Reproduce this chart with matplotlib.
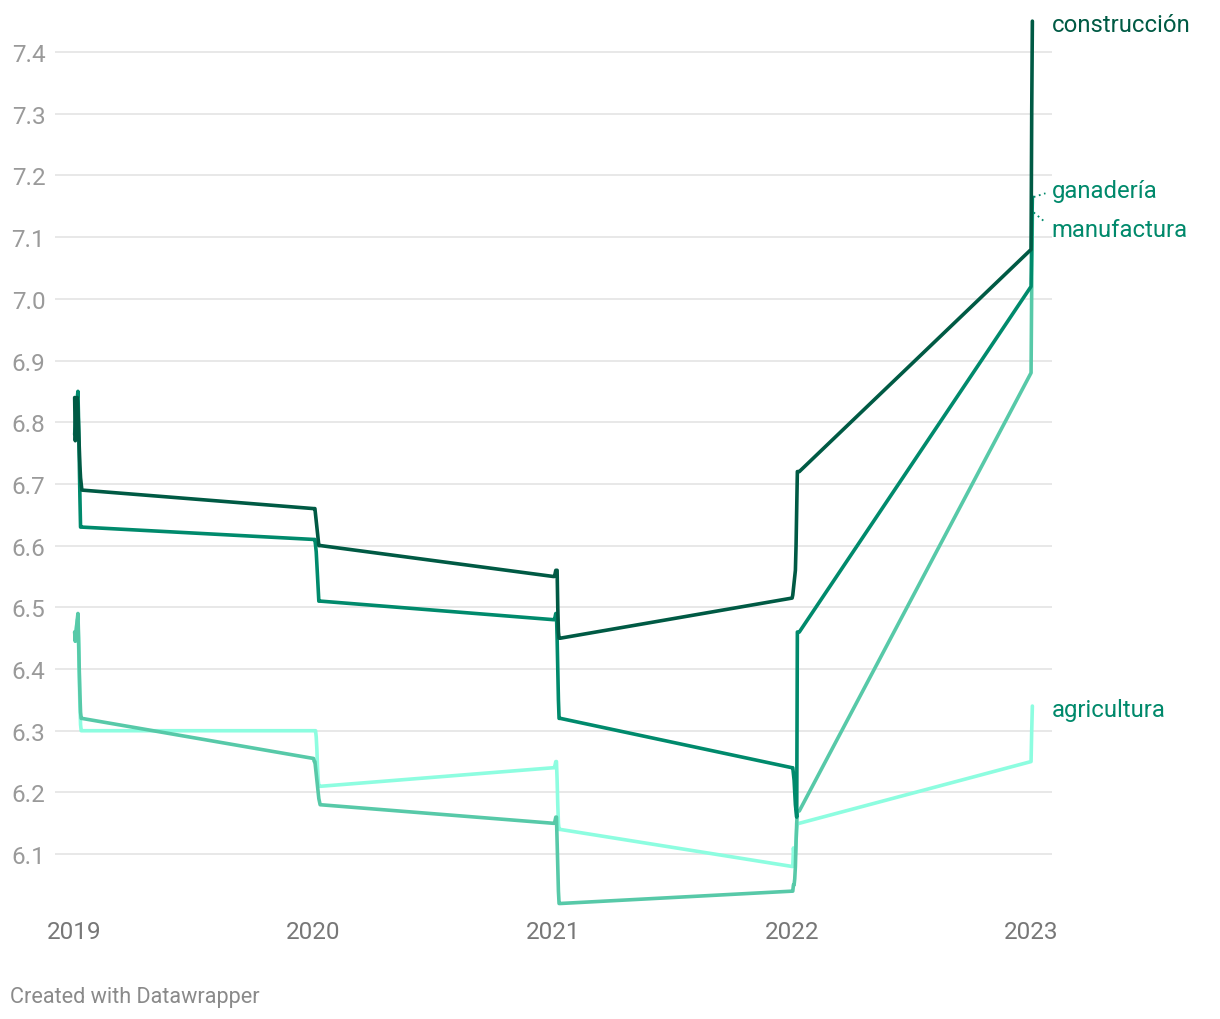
import matplotlib
matplotlib.use("Agg")
import matplotlib.pyplot as plt
import matplotlib.dates as mdates
import pandas as pd

plt.rcParams['font.family'] = ['Roboto', 'DejaVu Sans']

# ---- data (monthly values, plotted on consecutive January days as in the source) ----
years = [2019, 2020, 2021, 2022, 2023]
months_per_year = [12, 12, 12, 12, 3]

construccion = [6.84, 6.77, 6.80, 6.83, 6.84, 6.82, 6.79, 6.76, 6.73, 6.71, 6.70, 6.69,
                6.66, 6.66, 6.66, 6.65, 6.64, 6.63, 6.62, 6.61, 6.60, 6.60, 6.60, 6.60,
                6.55, 6.55, 6.55, 6.555, 6.56, 6.56, 6.56, 6.50, 6.46, 6.45, 6.45, 6.45,
                6.515, 6.52, 6.53, 6.54, 6.55, 6.56, 6.60, 6.66, 6.72, 6.72, 6.72, 6.72,
                7.08, 7.30, 7.45]
ganaderia = [6.78, 6.80, 6.82, 6.83, 6.84, 6.85, 6.80, 6.74, 6.68, 6.63, 6.63, 6.63,
             6.61, 6.61, 6.61, 6.60, 6.59, 6.57, 6.55, 6.53, 6.51, 6.51, 6.51, 6.51,
             6.48, 6.48, 6.48, 6.485, 6.49, 6.49, 6.45, 6.40, 6.35, 6.32, 6.32, 6.32,
             6.24, 6.24, 6.23, 6.22, 6.20, 6.18, 6.17, 6.16, 6.46, 6.46, 6.46, 6.46,
             7.02, 7.10, 7.165]
manufactura = [6.46, 6.445, 6.46, 6.47, 6.48, 6.49, 6.45, 6.40, 6.36, 6.33, 6.32, 6.32,
               6.255, 6.25, 6.25, 6.24, 6.23, 6.22, 6.21, 6.20, 6.19, 6.185, 6.18, 6.18,
               6.15, 6.15, 6.15, 6.155, 6.16, 6.16, 6.12, 6.08, 6.04, 6.02, 6.02, 6.02,
               6.04, 6.04, 6.05, 6.05, 6.06, 6.08, 6.12, 6.15, 6.17, 6.17, 6.17, 6.17,
               6.88, 7.02, 7.14]
agricultura = [6.46, 6.445, 6.46, 6.47, 6.48, 6.48, 6.44, 6.39, 6.34, 6.31, 6.30, 6.30,
               6.30, 6.30, 6.30, 6.30, 6.29, 6.27, 6.24, 6.22, 6.21, 6.21, 6.21, 6.21,
               6.24, 6.24, 6.24, 6.245, 6.25, 6.25, 6.22, 6.18, 6.15, 6.14, 6.14, 6.14,
               6.08, 6.08, 6.11, 6.10, 6.09, 6.10, 6.12, 6.14, 6.15, 6.15, 6.15, 6.15,
               6.25, 6.30, 6.34]

series_names = ['agricultura', 'manufactura', 'ganadería', 'construcción']
series_values = [agricultura, manufactura, ganaderia, construccion]
line_colors = ['#8dfde0', '#57c9a8', '#008a6c', '#005a44']
label_colors = ['#00896b', '#00896b', '#00896b', '#005a44']
label_offsets = [-0.006, -0.027, 0.010, -0.006]   # vertical nudge of end labels
has_leader = [False, True, True, False]

y_ticks = [6.1, 6.2, 6.3, 6.4, 6.5, 6.6, 6.7, 6.8, 6.9, 7.0, 7.1, 7.2, 7.3, 7.4]

dates = [pd.Timestamp(y, 1, m) for y, n in zip(years, months_per_year)
         for m in range(1, n + 1)]

# ---- figure ----
fig = plt.figure(figsize=(12.2, 10.2), dpi=100)
ax = fig.add_axes([0.0451, 0.1078, 0.8172, 0.8775])

for name, vals, c in zip(series_names, series_values, line_colors):
    ax.plot(dates, vals, color=c, lw=2.6, solid_joinstyle='round',
            solid_capstyle='round', zorder=3)

ax.set_xlim(pd.Timestamp(2018, 12, 2), pd.Timestamp(2023, 2, 2))
ax.set_ylim(6.011, 7.4616)

ax.set_yticks(y_ticks)
ax.set_yticklabels([f'{t:.1f}' for t in y_ticks])
ax.set_xticks([pd.Timestamp(y, 1, 1) for y in years])
ax.xaxis.set_major_formatter(mdates.DateFormatter('%Y'))

ax.grid(axis='y', color='#e1e1e1', lw=1.1, zorder=0)
ax.grid(axis='x', visible=False)
for s in ax.spines.values():
    s.set_visible(False)
ax.tick_params(axis='both', length=0, labelsize=17.5)
ax.tick_params(axis='y', pad=7)
ax.tick_params(axis='x', pad=8)
for lbl in ax.get_yticklabels():
    lbl.set_color('#9a9a9a')
for lbl in ax.get_xticklabels():
    lbl.set_color('#777777')

# ---- end labels ----
x_end = dates[-1]
lead_start = x_end + pd.Timedelta(days=2)
lead_stop = x_end + pd.Timedelta(days=20)
for name, vals, lc, off, lead in zip(series_names, series_values, label_colors,
                                      label_offsets, has_leader):
    ly = vals[-1] + off
    ax.annotate(name, xy=(x_end, ly), xytext=(14, 0), textcoords='offset points',
                xycoords='data', va='center', ha='left', fontsize=17.2, color=lc,
                annotation_clip=False)
    if lead:
        ax.plot([lead_start, lead_stop], [vals[-1], vals[-1] + off * 0.6],
                ls=(0, (1, 2)), color=lc, lw=1.3, clip_on=False, zorder=4)

fig.text(0.0082, 0.0225, 'Created with Datawrapper', fontsize=15.6, color='#8a8a8a',
         ha='left', va='center')

fig.savefig('out.png', dpi=100)
